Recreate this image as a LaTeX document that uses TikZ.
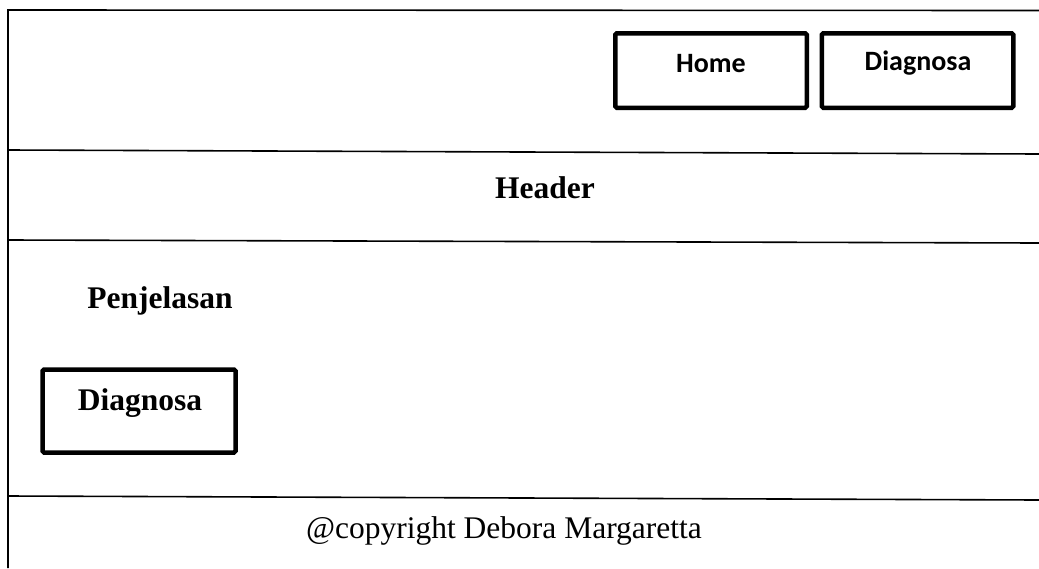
\documentclass[tikz,border=0pt]{standalone}
\usepackage{fontspec}
\setmainfont{Liberation Serif}
\newfontfamily\menufont{Carlito}
\usetikzlibrary{positioning}
\tikzset{menu box/.style={draw,line width=4.5pt,rounded corners=1.5pt,minimum width=191.5pt,minimum height=74.5pt,inner sep=0pt},
         menu text/.style={anchor=base,font=\menufont\bfseries\fontsize{28}{30}\selectfont},
         page text/.style={anchor=base,font=\bfseries\fontsize{31.5}{34}\selectfont},
         rule/.style={line width=1.6pt},
            }

\begin{document}
\begin{tikzpicture}[x=1pt,y=-1pt]
    \useasboundingbox (0,0) rectangle (1039,568);

    % page frame and section rules
    \draw[rule] (1039,10.5) -- (8,10) -- (8,568);
    \draw[rule] (8,150) -- (1039,154);
    \draw[rule] (8,240) -- (1039,243);
    \draw[rule] (8,496) -- (1039,500);

    % menu
    \node[menu box] (home) at (711,70.5) {};
    \node[menu box] (diag) [right = 10.5pt of home] {};
    \node[menu text] (homelabel) at (711,72) {Home};
    \node[menu text] (diaglabel) at (918,70) {Diagnosa};

    % content
    \node[page text] (header) at (545,198) {Header};
    \node[page text] (penjelasan) at (160,308) {Penjelasan};
    \node[menu box,minimum width=193pt,minimum height=83pt] (btn) at (139,411) {};
    \node[page text] (btnlabel) at (140,410) {Diagnosa};

    % footer
    \node[anchor=base,font=\fontsize{31.5}{34}\selectfont] (footer) at (504,538) {@copyright Debora Margaretta};
\end{tikzpicture}
\end{document}
